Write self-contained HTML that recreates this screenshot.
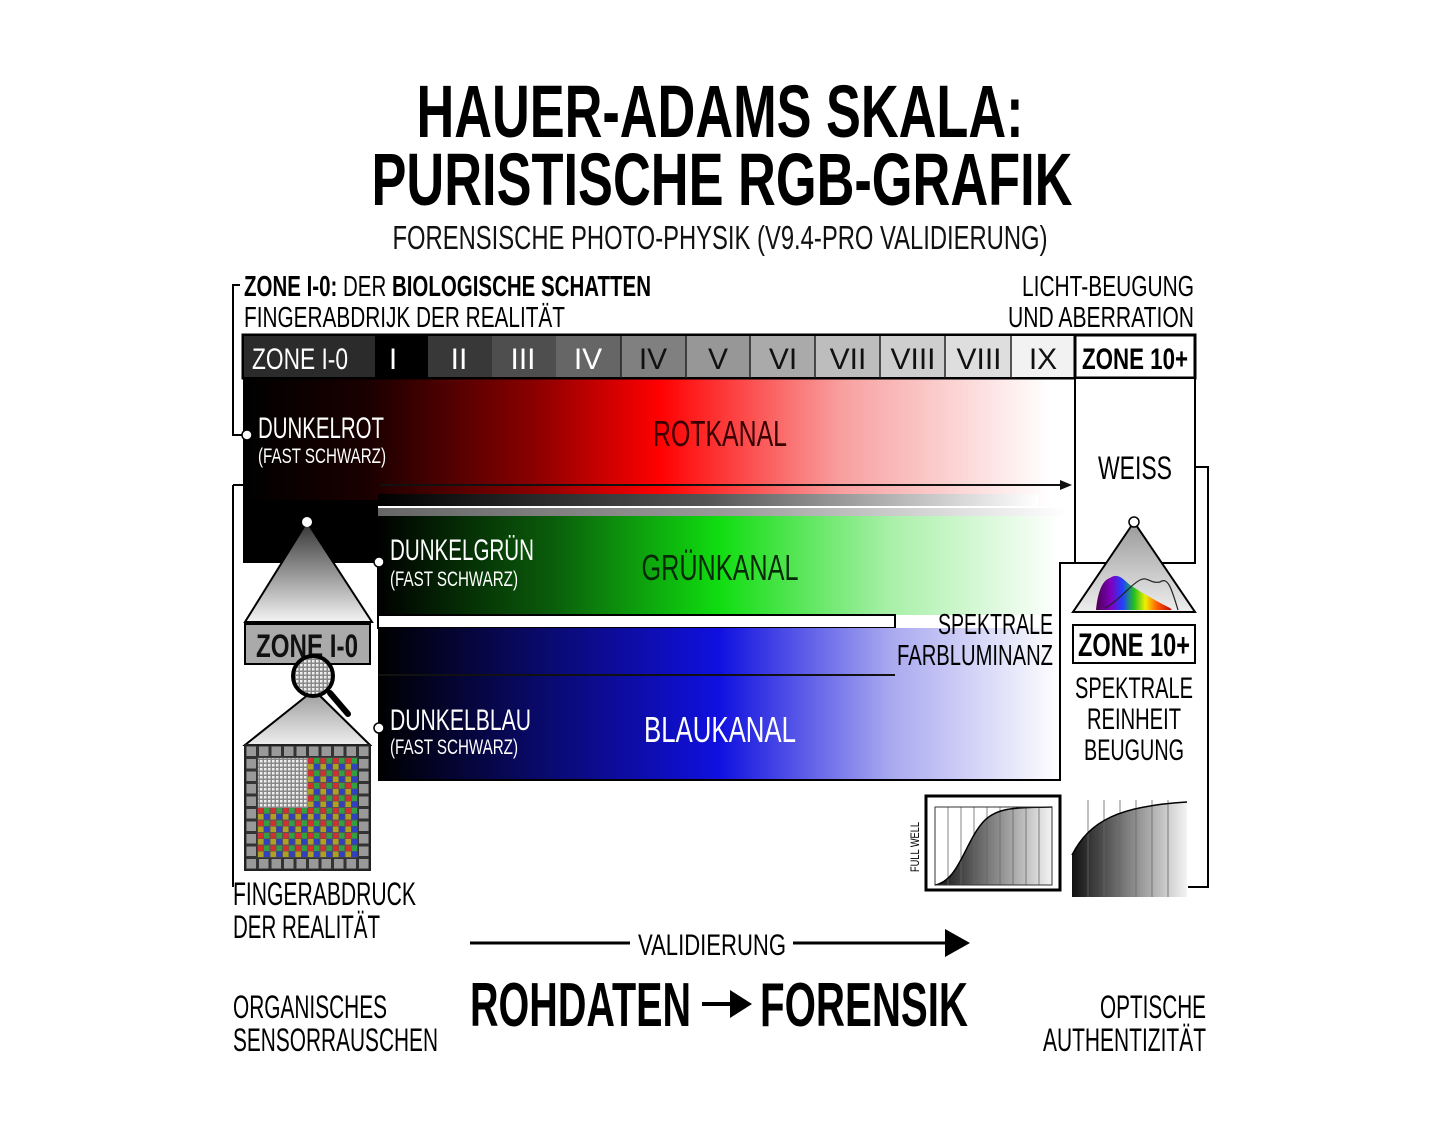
<!DOCTYPE html>
<html><head><meta charset="utf-8"><style>
html,body{margin:0;padding:0;background:#fff;}
svg{display:block;}
text{font-family:"Liberation Sans Narrow","Liberation Sans",sans-serif;}
.b{font-weight:bold;}
</style></head><body>
<svg width="1440" height="1138" viewBox="0 0 1440 1138" xmlns="http://www.w3.org/2000/svg">
<defs>
<linearGradient id="red" x1="0" x2="1" y1="0" y2="0">
<stop offset="0" stop-color="#000"/><stop offset="0.15" stop-color="#1a0000"/><stop offset="0.35" stop-color="#8a0000"/><stop offset="0.5" stop-color="#ff0000"/><stop offset="0.72" stop-color="#f8a0a0"/><stop offset="0.97" stop-color="#fff"/></linearGradient>
<linearGradient id="green" x1="0" x2="1"><stop offset="0" stop-color="#000"/><stop offset="0.25" stop-color="#0a5a0a"/><stop offset="0.5" stop-color="#10dd10"/><stop offset="0.75" stop-color="#a8f0a8"/><stop offset="1" stop-color="#fff"/></linearGradient>
<linearGradient id="blue" x1="0" x2="1"><stop offset="0" stop-color="#000"/><stop offset="0.25" stop-color="#0a0a70"/><stop offset="0.5" stop-color="#1010e0"/><stop offset="0.75" stop-color="#a8a8f0"/><stop offset="1" stop-color="#fff"/></linearGradient>
<linearGradient id="fadebar" x1="0" x2="1"><stop offset="0" stop-color="#000"/><stop offset="0.5" stop-color="#555"/><stop offset="1" stop-color="#fff"/></linearGradient>
<linearGradient id="tri" x1="0" x2="0" y1="0" y2="1"><stop offset="0" stop-color="#333"/><stop offset="1" stop-color="#f4f4f4"/></linearGradient>
<linearGradient id="tri2" x1="0" x2="0" y1="0" y2="1"><stop offset="0" stop-color="#999"/><stop offset="1" stop-color="#eee"/></linearGradient>
<linearGradient id="graph" x1="0" x2="1"><stop offset="0" stop-color="#111"/><stop offset="1" stop-color="#f4f4f4"/></linearGradient>
<linearGradient id="spec" x1="0" x2="1"><stop offset="0" stop-color="#4a0050"/><stop offset="0.2" stop-color="#8000c0"/><stop offset="0.35" stop-color="#2040ff"/><stop offset="0.5" stop-color="#20c020"/><stop offset="0.65" stop-color="#f0f000"/><stop offset="0.8" stop-color="#ff6000"/><stop offset="1" stop-color="#c00000"/></linearGradient>
<pattern id="bayer" x="257.5" y="757.5" width="12.5" height="12.5" patternUnits="userSpaceOnUse">
<rect width="12.5" height="12.5" fill="#555"/><rect x="0.5" y="0.5" width="5.5" height="5.5" fill="#d03030"/><rect x="6.5" y="0.5" width="5.5" height="5.5" fill="#30a040"/><rect x="0.5" y="6.5" width="5.5" height="5.5" fill="#b0a020"/><rect x="6.5" y="6.5" width="5.5" height="5.5" fill="#3040c0"/></pattern>
<pattern id="ring" x="245" y="745" width="12.5" height="12.5" patternUnits="userSpaceOnUse"><rect width="12.5" height="12.5" fill="#333"/><rect x="1.5" y="1.5" width="9.5" height="9.5" fill="#999"/></pattern>
<pattern id="noise" x="0" y="0" width="4" height="4" patternUnits="userSpaceOnUse"><rect width="4" height="4" fill="#888"/><rect width="2.5" height="2.5" fill="#eee"/></pattern>
</defs>
<rect width="1440" height="1138" fill="#fff"/>

<!-- Title -->
<text x="720" y="137" text-anchor="middle" class="b" font-size="74" textLength="607" lengthAdjust="spacingAndGlyphs">HAUER-ADAMS SKALA:</text>
<text x="722" y="205" text-anchor="middle" class="b" font-size="74" textLength="701" lengthAdjust="spacingAndGlyphs">PURISTISCHE RGB-GRAFIK</text>
<text x="720" y="249" text-anchor="middle" font-size="33" textLength="655" lengthAdjust="spacingAndGlyphs" fill="#111">FORENSISCHE PHOTO-PHYSIK (V9.4-PRO VALIDIERUNG)</text>

<text x="244" y="296" font-size="29" textLength="407" lengthAdjust="spacingAndGlyphs"><tspan class="b">ZONE I-0:</tspan> DER <tspan class="b">BIOLOGISCHE SCHATTEN</tspan></text>
<text x="244" y="327" font-size="29" textLength="321" lengthAdjust="spacingAndGlyphs">FINGERABDRIJK DER REALITÄT</text>
<text x="1194" y="296" text-anchor="end" font-size="29" textLength="172" lengthAdjust="spacingAndGlyphs">LICHT-BEUGUNG</text>
<text x="1194" y="327" text-anchor="end" font-size="29" textLength="186" lengthAdjust="spacingAndGlyphs">UND ABERRATION</text>

<!-- left bracket -->
<polyline points="240,285 233,285 233,435 247,435" fill="none" stroke="#000" stroke-width="2"/>

<!-- bands -->
<rect x="243" y="378" width="832" height="128" fill="url(#red)"/>
<rect x="243" y="500" width="135" height="63" fill="#000"/>
<rect x="378" y="494" width="660" height="12" fill="url(#fadebar)"/>
<rect x="378" y="508" width="690" height="8" fill="url(#fadebar)" opacity="0.6"/>
<line x1="380" y1="485" x2="1062" y2="485" stroke="#111" stroke-width="2"/>
<polygon points="1072,485 1060,480 1060,490" fill="#111"/>
<rect x="378" y="516" width="682" height="99" fill="url(#green)"/>
<rect x="378" y="615" width="517" height="13" fill="#fff" stroke="#000" stroke-width="2"/>
<rect x="378" y="628" width="682" height="152" fill="url(#blue)"/>
<line x1="378" y1="675" x2="895" y2="675" stroke="#111" stroke-width="2"/>
<polyline points="378,780 1060,780 1060,563 1075,563" fill="none" stroke="#000" stroke-width="2"/>
<line x1="378" y1="563" x2="378" y2="615" stroke="#000" stroke-width="2"/>

<!-- zone bar -->
<rect x="243" y="335" width="952" height="43" fill="#fff" stroke="#000" stroke-width="3"/>
<rect x="244" y="336" width="131" height="41" fill="#2b2b2b"/>
<rect x="375" y="336" width="53" height="41" fill="#000"/>
<rect x="428" y="336" width="64" height="41" fill="#383838"/>
<rect x="492" y="336" width="64" height="41" fill="#4e4e4e"/>
<rect x="556" y="336" width="65" height="41" fill="#666"/>
<rect x="621" y="336" width="65" height="41" fill="#808080"/>
<rect x="686" y="336" width="64" height="41" fill="#979797"/>
<rect x="750" y="336" width="65" height="41" fill="#aaa"/>
<rect x="815" y="336" width="65" height="41" fill="#bdbdbd"/>
<rect x="880" y="336" width="65" height="41" fill="#cecece"/>
<rect x="945" y="336" width="66" height="41" fill="#dedede"/>
<rect x="1011" y="336" width="64" height="41" fill="#f2f2f2"/>
<g stroke="#222" stroke-width="1.5"><line x1="621" y1="336" x2="621" y2="378"/><line x1="686" y1="336" x2="686" y2="378"/><line x1="750" y1="336" x2="750" y2="378"/><line x1="815" y1="336" x2="815" y2="378"/><line x1="880" y1="336" x2="880" y2="378"/><line x1="945" y1="336" x2="945" y2="378"/><line x1="1011" y1="336" x2="1011" y2="378"/></g>
<line x1="1075" y1="335" x2="1075" y2="378" stroke="#000" stroke-width="3"/>
<g font-size="30" text-anchor="middle">
<text x="300" y="369" fill="#fff" textLength="96" lengthAdjust="spacingAndGlyphs">ZONE I-0</text>
<text x="393" y="369" fill="#fff">I</text>
<text x="459" y="369" fill="#fff">II</text>
<text x="523" y="369" fill="#fff">III</text>
<text x="588" y="369" fill="#fff">IV</text>
<text x="653" y="369" fill="#111">IV</text>
<text x="718" y="369" fill="#111">V</text>
<text x="783" y="369" fill="#111">VI</text>
<text x="848" y="369" fill="#111">VII</text>
<text x="913" y="369" fill="#111">VIII</text>
<text x="979" y="369" fill="#111">VIII</text>
<text x="1043" y="369" fill="#111">IX</text>
<text x="1135" y="369" fill="#000" class="b" textLength="106" lengthAdjust="spacingAndGlyphs">ZONE 10+</text>
</g>

<!-- WEISS box -->
<rect x="1075" y="378" width="120" height="185" fill="#fff" stroke="#000" stroke-width="2"/>
<text x="1135" y="479" text-anchor="middle" font-size="32" textLength="74" lengthAdjust="spacingAndGlyphs">WEISS</text>
<polyline points="1195,467 1208,467 1208,887 1188,887" fill="none" stroke="#000" stroke-width="2"/>

<!-- band labels -->
<circle cx="247" cy="435" r="5" fill="#fff" stroke="#000" stroke-width="1.5"/>
<text x="258" y="438" font-size="30" fill="#fff" textLength="126" lengthAdjust="spacingAndGlyphs">DUNKELROT</text>
<text x="258" y="463" font-size="21" fill="#fff" textLength="128" lengthAdjust="spacingAndGlyphs">(FAST SCHWARZ)</text>
<text x="720" y="446" text-anchor="middle" font-size="36" fill="#3a0000" textLength="134" lengthAdjust="spacingAndGlyphs">ROTKANAL</text>
<circle cx="379" cy="562" r="5" fill="#fff" stroke="#000" stroke-width="1.5"/>
<text x="390" y="560" font-size="30" fill="#fff" textLength="144" lengthAdjust="spacingAndGlyphs">DUNKELGRÜN</text>
<text x="390" y="586" font-size="21" fill="#fff" textLength="128" lengthAdjust="spacingAndGlyphs">(FAST SCHWARZ)</text>
<text x="720" y="580" text-anchor="middle" font-size="36" fill="#062a06" textLength="157" lengthAdjust="spacingAndGlyphs">GRÜNKANAL</text>
<circle cx="379" cy="728" r="5" fill="#fff" stroke="#000" stroke-width="1.5"/>
<text x="390" y="730" font-size="30" fill="#fff" textLength="141" lengthAdjust="spacingAndGlyphs">DUNKELBLAU</text>
<text x="390" y="754" font-size="21" fill="#fff" textLength="128" lengthAdjust="spacingAndGlyphs">(FAST SCHWARZ)</text>
<text x="720" y="742" text-anchor="middle" font-size="36" fill="#fff" textLength="152" lengthAdjust="spacingAndGlyphs">BLAUKANAL</text>

<text x="1053" y="634" text-anchor="end" font-size="29" textLength="115" lengthAdjust="spacingAndGlyphs">SPEKTRALE</text>
<text x="1053" y="665" text-anchor="end" font-size="29" textLength="156" lengthAdjust="spacingAndGlyphs">FARBLUMINANZ</text>

<!-- left: triangles, zone box, magnifier, grid -->
<line x1="233" y1="485" x2="243" y2="485" stroke="#000" stroke-width="2"/>
<line x1="233" y1="485" x2="233" y2="887" stroke="#000" stroke-width="2"/>
<polygon points="307,522 245,622 372,622" fill="url(#tri)" stroke="#000" stroke-width="2"/>
<circle cx="307" cy="522" r="5" fill="#fff"/>
<rect x="245" y="624" width="125" height="40" fill="#aaa" stroke="#000" stroke-width="2"/>
<text x="307" y="657" text-anchor="middle" font-size="32" class="b" fill="#111" textLength="102" lengthAdjust="spacingAndGlyphs">ZONE I-0</text>
<polygon points="314,690 245,745 370,745" fill="url(#tri2)" stroke="#000" stroke-width="2"/>
<line x1="330" y1="693" x2="348" y2="714" stroke="#000" stroke-width="6" stroke-linecap="round"/>
<circle cx="313" cy="676" r="20" fill="url(#noise)" stroke="#000" stroke-width="4"/>
<rect x="245" y="745" width="125" height="125" fill="url(#ring)"/>
<rect x="257.5" y="757.5" width="100" height="100" fill="url(#bayer)"/>
<rect x="258" y="758" width="50" height="50" fill="url(#noise)"/>
<rect x="245" y="745" width="125" height="125" fill="none" stroke="#222" stroke-width="2"/>

<!-- right: triangle + histogram -->
<polygon points="1134,522 1073,612 1195,612" fill="url(#tri2)" stroke="#000" stroke-width="2"/>
<path d="M1096,610 C1098,590 1103,580 1110,578 C1118,572 1124,580 1130,585 C1138,590 1150,598 1170,608 L1172,610 Z" fill="url(#spec)"/>
<path d="M1105,608 C1120,600 1130,585 1140,580 C1148,576 1150,584 1160,582 C1168,576 1172,590 1178,610" fill="none" stroke="#222" stroke-width="1.2"/>
<circle cx="1134" cy="522" r="5" fill="#fff" stroke="#000" stroke-width="1.5"/>
<rect x="1073" y="625" width="122" height="38" fill="#fff" stroke="#000" stroke-width="2"/>
<text x="1134" y="656" text-anchor="middle" font-size="32" class="b" textLength="112" lengthAdjust="spacingAndGlyphs">ZONE 10+</text>
<g font-size="30" text-anchor="middle">
<text x="1134" y="698" textLength="118" lengthAdjust="spacingAndGlyphs">SPEKTRALE</text>
<text x="1134" y="729" textLength="94" lengthAdjust="spacingAndGlyphs">REINHEIT</text>
<text x="1134" y="760" textLength="100" lengthAdjust="spacingAndGlyphs">BEUGUNG</text>
</g>

<!-- graphs -->
<rect x="926" y="796" width="134" height="94" fill="#fff" stroke="#000" stroke-width="3"/>
<path d="M935,885 C960,880 965,840 985,820 C1000,806 1020,808 1052,807 L1052,885 Z" fill="url(#graph)"/>
<g stroke="#666" stroke-width="0.8"><line x1="948" y1="807" x2="948" y2="885"/><line x1="961" y1="807" x2="961" y2="885"/><line x1="974" y1="807" x2="974" y2="885"/><line x1="987" y1="807" x2="987" y2="885"/><line x1="1000" y1="807" x2="1000" y2="885"/><line x1="1013" y1="807" x2="1013" y2="885"/><line x1="1026" y1="807" x2="1026" y2="885"/><line x1="1039" y1="807" x2="1039" y2="885"/></g>
<path d="M935,885 C960,880 965,840 985,820 C1000,806 1020,808 1052,807" fill="none" stroke="#000" stroke-width="1.5"/>
<rect x="935" y="807" width="117" height="78" fill="none" stroke="#333" stroke-width="1"/>
<text transform="translate(919,872) rotate(-90)" font-size="12" textLength="50" lengthAdjust="spacingAndGlyphs">FULL WELL</text>
<path d="M1072,897 L1072,855 C1090,820 1120,806 1187,802 L1187,897 Z" fill="url(#graph)"/>
<g stroke="#666" stroke-width="0.8"><line x1="1088" y1="800" x2="1088" y2="897"/><line x1="1104" y1="800" x2="1104" y2="897"/><line x1="1120" y1="800" x2="1120" y2="897"/><line x1="1136" y1="800" x2="1136" y2="897"/><line x1="1152" y1="800" x2="1152" y2="897"/><line x1="1168" y1="800" x2="1168" y2="897"/></g>
<path d="M1072,855 C1090,820 1120,806 1187,802" fill="none" stroke="#000" stroke-width="1.5"/>

<!-- bottom texts -->
<text x="233" y="905" font-size="32" textLength="183" lengthAdjust="spacingAndGlyphs">FINGERABDRUCK</text>
<text x="233" y="938" font-size="32" textLength="147" lengthAdjust="spacingAndGlyphs">DER REALITÄT</text>
<line x1="470" y1="943" x2="630" y2="943" stroke="#000" stroke-width="3"/>
<text x="712" y="955" text-anchor="middle" font-size="30" textLength="148" lengthAdjust="spacingAndGlyphs">VALIDIERUNG</text>
<line x1="793" y1="943" x2="950" y2="943" stroke="#000" stroke-width="3"/>
<polygon points="970,943 945,929 945,957" fill="#000"/>
<text x="470" y="1026" class="b" font-size="62" textLength="221" lengthAdjust="spacingAndGlyphs">ROHDATEN</text>
<line x1="702" y1="1004" x2="735" y2="1004" stroke="#000" stroke-width="4"/>
<polygon points="752,1004 730,990 730,1018" fill="#000"/>
<text x="760" y="1026" class="b" font-size="62" textLength="208" lengthAdjust="spacingAndGlyphs">FORENSIK</text>
<text x="233" y="1018" font-size="32" textLength="154" lengthAdjust="spacingAndGlyphs">ORGANISCHES</text>
<text x="233" y="1051" font-size="32" textLength="205" lengthAdjust="spacingAndGlyphs">SENSORRAUSCHEN</text>
<text x="1206" y="1018" text-anchor="end" font-size="32" textLength="106" lengthAdjust="spacingAndGlyphs">OPTISCHE</text>
<text x="1206" y="1051" text-anchor="end" font-size="32" textLength="163" lengthAdjust="spacingAndGlyphs">AUTHENTIZITÄT</text>
</svg>
</body></html>
